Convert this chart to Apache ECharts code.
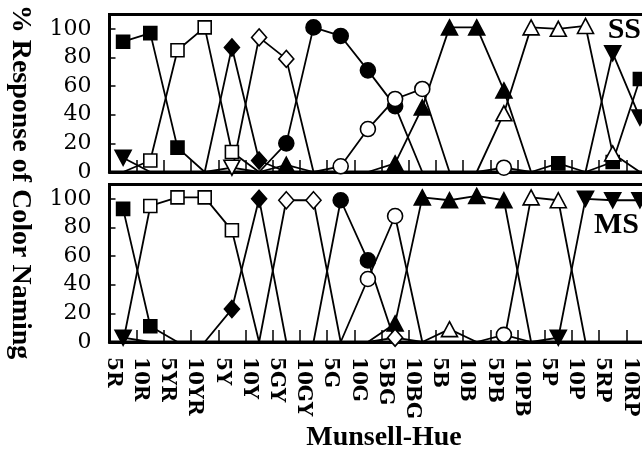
<!DOCTYPE html>
<html>
<head>
<meta charset="utf-8">
<script src="https://cdn.jsdelivr.net/npm/echarts@6/dist/echarts.min.js"></script>
<style>
  html, body { margin: 0; padding: 0; background: #fff; }
  #chart { width: 642px; height: 468px; }
</style>
</head>
<body>
<div id="chart"></div>
<script>
// Munsell hue categories along the x axis
const hues = ['5R', '10R', '5YR', '10YR', '5Y', '10Y', '5GY', '10GY', '5G', '10G',
              '5BG', '10BG', '5B', '10B', '5PB', '10PB', '5P', '10P', '5RP', '10RP'];
const yTickValues = [0, 20, 40, 60, 80, 100];

// Subject SS: % of responses per colour name at each hue
const ssRed    = [91, 97, 17, 0, 0, 0, 0, 0, 0, 0, 0, 0, 0, 0, 0, 0, 6, 0, 7, 65];
const ssOrange = [0, 8, 85, 101, 14, 0, 0, 0, 0, 0, 0, 0, 0, 0, 0, 0, 0, 0, 0, 0];
const ssYellow = [0, 0, 0, 0, 87, 8, 0, 0, 0, 0, 0, 0, 0, 0, 0, 0, 0, 0, 0, 0];
const ssYGreen = [0, 0, 0, 0, 0, 94, 79, 0, 0, 0, 0, 0, 0, 0, 0, 0, 0, 0, 0, 0];
const ssGreen  = [0, 0, 0, 0, 0, 0, 20, 101, 95, 71, 46, 0, 0, 0, 0, 0, 0, 0, 0, 0];
const ssBGreen = [0, 0, 0, 0, 0, 0, 0, 0, 4, 30, 51, 58, 0, 0, 3, 0, 0, 0, 0, 0];
const ssBlue   = [0, 0, 0, 0, 0, 0, 5, 0, 0, 0, 6, 45, 101, 101, 57, 0, 0, 0, 0, 0];
const ssPurple = [0, 0, 0, 0, 0, 0, 0, 0, 0, 0, 0, 0, 0, 0, 41, 101, 100, 102, 13, 0];
const ssPink   = [10, 0, 0, 0, 0, 0, 0, 0, 0, 0, 0, 0, 0, 0, 0, 0, 0, 0, 83, 38];
const ssOther  = [0, 0, 0, 0, 3, 0, 0, 0, 0, 0, 0, 0, 0, 0, 0, 0, 0, 0, 0, 0];

// Subject MS
const msRed    = [93, 11, 0, 0, 0, 0, 0, 0, 0, 0, 0, 0, 0, 0, 0, 0, 0, 0, 0, 0];
const msOrange = [0, 95, 101, 101, 78, 0, 0, 0, 0, 0, 0, 0, 0, 0, 0, 0, 0, 0, 0, 0];
const msYellow = [0, 0, 0, 0, 23, 100, 0, 0, 0, 0, 0, 0, 0, 0, 0, 0, 0, 0, 0, 0];
const msYGreen = [0, 0, 0, 0, 0, 0, 99, 99, 0, 0, 3, 0, 0, 0, 0, 0, 0, 0, 0, 0];
const msGreen  = [0, 0, 0, 0, 0, 0, 0, 0, 99, 57, 0, 0, 0, 0, 0, 0, 0, 0, 0, 0];
const msBGreen = [0, 0, 0, 0, 0, 0, 0, 0, 0, 44, 88, 0, 0, 0, 5, 0, 0, 0, 0, 0];
const msBlue   = [0, 0, 0, 0, 0, 0, 0, 0, 0, 0, 13, 101, 99, 102, 99, 0, 0, 0, 0, 0];
const msPurple = [0, 0, 0, 0, 0, 0, 0, 0, 0, 0, 0, 0, 9, 0, 0, 101, 99, 0, 0, 0];
const msPink   = [3, 0, 0, 0, 0, 0, 0, 0, 0, 0, 0, 0, 0, 0, 0, 0, 3, 100, 99, 99];

// Marker style for each colour-name curve
const markers = {
  red:    { symbol: 'rect',     size: [13, 13], fill: '#000', rotate: 0 },
  orange: { symbol: 'rect',     size: [13, 13], fill: '#fff', rotate: 0 },
  yellow: { symbol: 'diamond',  size: [15, 17], fill: '#000', rotate: 0 },
  ygreen: { symbol: 'diamond',  size: [15, 17], fill: '#fff', rotate: 0 },
  green:  { symbol: 'circle',   size: [15, 15], fill: '#000', rotate: 0 },
  bgreen: { symbol: 'circle',   size: [15, 15], fill: '#fff', rotate: 0 },
  blue:   { symbol: 'triangle', size: [16, 15], fill: '#000', rotate: 0 },
  purple: { symbol: 'triangle', size: [16, 15], fill: '#fff', rotate: 0 },
  pink:   { symbol: 'triangle', size: [16, 15], fill: '#000', rotate: 180 },
  other:  { symbol: 'triangle', size: [16, 15], fill: '#fff', rotate: 180 }
};

const panels = [
  { red: ssRed, orange: ssOrange, yellow: ssYellow, ygreen: ssYGreen, green: ssGreen,
    bgreen: ssBGreen, blue: ssBlue, purple: ssPurple, pink: ssPink, other: ssOther },
  { red: msRed, orange: msOrange, yellow: msYellow, ygreen: msYGreen, green: msGreen,
    bgreen: msBGreen, blue: msBlue, purple: msPurple, pink: msPink }
];

const serif = '"DejaVu Serif", serif';
const times = '"Liberation Serif", "Times New Roman", serif';

function makeSeries(panelIndex) {
  const out = [];
  Object.keys(panels[panelIndex]).forEach(function (key) {
    const m = markers[key];
    out.push({
      type: 'line',
      xAxisIndex: panelIndex,
      yAxisIndex: panelIndex,
      data: panels[panelIndex][key],
      symbol: m.symbol,
      symbolRotate: m.rotate,
      symbolSize: function (v) { return v > 0 ? m.size : 0; },
      showAllSymbol: true,
      clip: false,
      lineStyle: { color: '#000', width: 1.8 },
      itemStyle: { color: m.fill, borderColor: '#000', borderWidth: 1.6 },
      emphasis: { disabled: true },
      z: m.fill === '#fff' ? 3 : 2
    });
  });
  return out;
}

function xAxis(gi, showLabels) {
  return {
    type: 'category',
    gridIndex: gi,
    data: hues,
    boundaryGap: true,
    axisLine: { show: true, lineStyle: { color: '#000', width: 3 } },
    axisTick: { show: true, inside: true, length: 12, interval: 0,
                lineStyle: { color: '#000', width: 1.5 } },
    axisLabel: {
      show: showLabels, interval: 0, rotate: -90, margin: 15,
      verticalAlign: 'top',
      color: '#000', fontFamily: serif, fontWeight: 'bold', fontSize: 20
    },
    splitLine: { show: false }
  };
}

function yAxis(gi) {
  return {
    type: 'value',
    gridIndex: gi,
    min: 0,
    max: 110,
    interval: 20,
    axisLine: { show: true, lineStyle: { color: '#000', width: 3 } },
    axisTick: { show: true, inside: true, length: 6,
                lineStyle: { color: '#000', width: 1.5 } },
    axisLabel: {
      margin: 18, color: '#000', fontFamily: serif, fontSize: 22,
      padding: [5, 0, 0, 0],
      formatter: function (v) { return yTickValues.indexOf(v) >= 0 ? String(v) : ''; }
    },
    splitLine: { show: false }
  };
}

// The plotting area runs past the right edge of the page (the 10RP column is cut)
const gridBase = {
  left: 109.5, width: 544, height: 157.5, show: true,
  outerBoundsMode: 'none', containLabel: false,
  borderColor: '#000', borderWidth: 3, backgroundColor: 'transparent'
};

const chart = echarts.init(document.getElementById('chart'), null, { renderer: 'canvas' });
chart.setOption({
  animation: false,
  backgroundColor: '#fff',
  grid: [
    Object.assign({}, gridBase, { top: 14.5 }),
    Object.assign({}, gridBase, { top: 184.5 })
  ],
  xAxis: [xAxis(0, false), xAxis(1, true)],
  yAxis: [yAxis(0), yAxis(1)],
  series: makeSeries(0).concat(makeSeries(1)),
  graphic: [
    { type: 'text', silent: true, x: 20, y: 182, rotation: -Math.PI / 2,
      style: { text: '% Response of Color Naming', x: 0, y: 0,
               font: 'bold 28px ' + times, fill: '#000',
               align: 'center', verticalAlign: 'middle' } },
    { type: 'text', silent: true,
      style: { text: 'Munsell-Hue', x: 384, y: 438, font: 'bold 28px ' + times,
               fill: '#000', align: 'center', verticalAlign: 'middle' } },
    { type: 'text', silent: true,
      style: { text: 'SS', x: 641, y: 30, font: 'bold 30px ' + times,
               fill: '#000', align: 'right', verticalAlign: 'middle' } },
    { type: 'text', silent: true,
      style: { text: 'MS', x: 639, y: 225, font: 'bold 30px ' + times,
               fill: '#000', align: 'right', verticalAlign: 'middle' } }
  ]
});
</script>
</body>
</html>
